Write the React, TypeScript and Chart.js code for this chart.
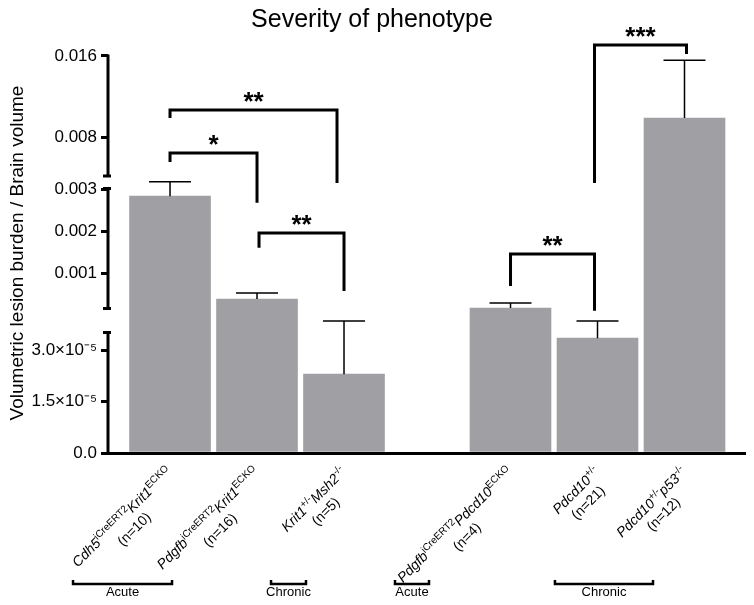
import React, { useEffect, useRef } from "react";
import { Chart, registerables } from "chart.js";

Chart.register(...registerables);

const FONT = "'Liberation Sans', Arial, Helvetica, sans-serif";

// ---------------- data ----------------
const categoryLabels = [
  "Cdh5^{iCreERT2}Krit1^{ECKO}",
  "Pdgfb^{iCreERT2}Krit1^{ECKO}",
  "Krit1^{+/-}Msh2^{-/-}",
  "Pdgfb^{iCreERT2}Pdcd10^{ECKO}",
  "Pdcd10^{+/-}",
  "Pdcd10^{+/-}p53^{-/-}",
];
const sampleSizes = ["(n=10)", "(n=16)", "(n=5)", "(n=4)", "(n=21)", "(n=12)"];
const clusterOf = [0, 0, 0, 1, 1, 1];
const means = [0.00283, 0.000381, 2.3e-5, 0.000167, 3.35e-5, 0.00988];
const sems = [0.00034, 0.000143, 1.55e-5, 0.000119, 0.5e-5, 0.0057];

const yTickValues = [0, 1.5e-5, 3.0e-5, 0.001, 0.002, 0.003, 0.008, 0.016];
const yTickLabels = ["0.0", "1.5×10⁻⁵", "3.0×10⁻⁵", "0.001", "0.002", "0.003", "0.008", "0.016"];

// broken axis: value range of each piece and where it sits on the axis (0..AXIS_SPAN)
const axisSegments = [
  { lo: 0, hi: 3.5e-5, from: 0, to: 120 },
  { lo: 0.000167, hi: 0.003, from: 145, to: 264 },
  { lo: 0.0042, hi: 0.016, from: 277.5, to: 397 },
];
const AXIS_SPAN = 413;

const comparisons = [
  { a: 0, b: 1, top: 0.00642, endA: 0.00553, endB: 0.00267, label: "*", nudgeA: 0, nudgeB: 0 },
  { a: 0, b: 2, top: 0.01067, endA: 0.00988, endB: 0.00314, label: "**", nudgeA: 0, nudgeB: -7 },
  { a: 1, b: 2, top: 0.00195, endA: 0.0016, endB: 0.000571, label: "**", nudgeA: 2, nudgeB: 0 },
  { a: 3, b: 4, top: 0.00145, endA: 0.00069, endB: 0.0001, label: "**", nudgeA: 0, nudgeB: -3 },
  { a: 4, b: 5, top: 0.01709, endA: 0.00314, endB: 0.0162, label: "***", nudgeA: -3, nudgeB: 2 },
];

const groupLabels = ["Acute", "Chronic", "Acute", "Chronic"];
const groupSpans = [
  [-1.115, 0.023],
  [1.161, 1.563],
  [2.586, 2.977],
  [4.425, 5.552],
];

// ---------------- layout helpers ----------------
const CLUSTER_GAP = 0.914;
const barX = categoryLabels.map((_, i) => i + clusterOf[i] * CLUSTER_GAP);

function segIndex(v: number) {
  for (let i = 0; i < axisSegments.length - 1; i++) {
    const t = Math.sqrt(axisSegments[i].hi * axisSegments[i + 1].lo);
    if (v < t) return i;
  }
  return axisSegments.length - 1;
}
function toAxis(v: number) {
  const s = axisSegments[segIndex(v)];
  return s.from + ((v - s.lo) / (s.hi - s.lo)) * (s.to - s.from);
}

function parseRich(s: string) {
  const runs: { t: string; sup: boolean }[] = [];
  const re = /\^\{([^}]*)\}|([^^]+)/g;
  let m: RegExpExecArray | null;
  while ((m = re.exec(s))) {
    if (m[1] !== undefined) runs.push({ t: m[1], sup: true });
    else runs.push({ t: m[2], sup: false });
  }
  return runs;
}

const decorations = {
  id: "decorations",
  afterDraw(chart: any) {
    const ctx: CanvasRenderingContext2D = chart.ctx;
    const xs = chart.scales.x;
    const ys = chart.scales.y;
    const area = chart.chartArea;
    ctx.save();
    ctx.fillStyle = "#000";
    ctx.strokeStyle = "#000";

    // title
    ctx.font = `25px ${FONT}`;
    ctx.textAlign = "center";
    ctx.textBaseline = "alphabetic";
    ctx.fillText("Severity of phenotype", 364, 19);

    // y axis title
    ctx.save();
    ctx.translate(10, 245);
    ctx.rotate(-Math.PI / 2);
    ctx.font = `19px ${FONT}`;
    ctx.textBaseline = "middle";
    ctx.fillText("Volumetric lesion burden / Brain volume", 0, 0);
    ctx.restore();

    // broken y axis
    const ax = area.left;
    ctx.lineWidth = 3;
    ctx.lineCap = "butt";
    axisSegments.forEach((s, i) => {
      const yA = ys.getPixelForValue(s.from);
      const yB = ys.getPixelForValue(s.to);
      ctx.beginPath();
      ctx.moveTo(ax, i === 0 ? area.bottom + 1.5 : yA + 1.5);
      ctx.lineTo(ax, yB - 1.5);
      ctx.stroke();
      if (i > 0) {
        ctx.beginPath();
        ctx.moveTo(ax - 5, yA + 0.5);
        ctx.lineTo(ax + 3, yA + 0.5);
        ctx.stroke();
      }
      if (i < axisSegments.length - 1) {
        ctx.beginPath();
        ctx.moveTo(ax - 5, yB - 0.5);
        ctx.lineTo(ax + 3, yB - 0.5);
        ctx.stroke();
      }
    });

    // error bars
    ctx.lineWidth = 1.5;
    means.forEach((m, i) => {
      const x = xs.getPixelForValue(barX[i]);
      const yBar = ys.getPixelForValue(toAxis(m));
      const yTop = ys.getPixelForValue(toAxis(m + sems[i]));
      ctx.beginPath();
      ctx.moveTo(x, yBar);
      ctx.lineTo(x, yTop);
      ctx.moveTo(x - 21, yTop);
      ctx.lineTo(x + 21, yTop);
      ctx.stroke();
    });

    // significance brackets
    comparisons.forEach((c) => {
      const xa = xs.getPixelForValue(barX[c.a]) + c.nudgeA;
      const xb = xs.getPixelForValue(barX[c.b]) + c.nudgeB;
      const yt = ys.getPixelForValue(toAxis(c.top));
      const ya = ys.getPixelForValue(toAxis(c.endA));
      const yb = ys.getPixelForValue(toAxis(c.endB));
      ctx.lineWidth = 3;
      ctx.lineJoin = "miter";
      ctx.beginPath();
      ctx.moveTo(xa, ya);
      ctx.lineTo(xa, yt);
      ctx.lineTo(xb, yt);
      ctx.lineTo(xb, yb);
      ctx.stroke();
      ctx.font = `bold 26px ${FONT}`;
      ctx.textAlign = "center";
      ctx.textBaseline = "alphabetic";
      ctx.fillText(c.label, (xa + xb) / 2, yt);
    });

    // category labels (rotated, rich text)
    const mainFont = `italic 14px ${FONT}`;
    const supFont = `10px ${FONT}`;
    categoryLabels.forEach((lab, i) => {
      const x = xs.getPixelForValue(barX[i]);
      const runs = parseRich(lab);
      let w1 = 0;
      runs.forEach((r) => {
        ctx.font = r.sup ? supFont : mainFont;
        w1 += ctx.measureText(r.t).width;
      });
      ctx.save();
      ctx.translate(x - 5, area.bottom + 12);
      ctx.rotate(-Math.PI / 4);
      ctx.textAlign = "left";
      ctx.textBaseline = "alphabetic";
      const base = 11;
      let cx = -w1;
      runs.forEach((r) => {
        ctx.font = r.sup ? supFont : mainFont;
        ctx.fillText(r.t, cx, r.sup ? base - 5.5 : base);
        cx += ctx.measureText(r.t).width;
      });
      ctx.font = `14px ${FONT}`;
      ctx.textAlign = "center";
      ctx.fillText(sampleSizes[i], -w1 / 2, base + 17);
      ctx.restore();
    });

    // group brackets
    groupLabels.forEach((g, i) => {
      const x1 = xs.getPixelForValue(groupSpans[i][0]);
      const x2 = xs.getPixelForValue(groupSpans[i][1]);
      const yl = 576;
      ctx.lineWidth = 2.5;
      ctx.beginPath();
      ctx.moveTo(x1, yl - 4);
      ctx.lineTo(x1, yl);
      ctx.lineTo(x2, yl);
      ctx.lineTo(x2, yl - 4);
      ctx.stroke();
      ctx.font = `13px ${FONT}`;
      ctx.textAlign = "center";
      ctx.textBaseline = "alphabetic";
      ctx.fillText(g, (x1 + x2) / 2, 588);
    });

    ctx.restore();
  },
};

export default function App() {
  const ref = useRef<HTMLCanvasElement | null>(null);
  useEffect(() => {
    if (!ref.current) return;
    const chart = new Chart(ref.current, {
      type: "bar",
      data: {
        datasets: [
          {
            data: means.map((m, i) => ({ x: barX[i], y: toAxis(m) })),
            backgroundColor: "#a0a0a4",
            borderWidth: 0,
            barThickness: 81,
          },
        ],
      },
      options: {
        animation: false,
        responsive: true,
        maintainAspectRatio: false,
        layout: { padding: { top: 32, left: 0, right: 0, bottom: 0 } },
        plugins: {
          legend: { display: false },
          title: { display: false },
          tooltip: { enabled: false },
        },
        scales: {
          x: {
            type: "linear",
            offset: false,
            min: -0.713,
            max: 6.621,
            z: 1,
            grid: { display: false, offset: false },
            ticks: { display: false },
            border: { display: true, color: "#000", width: 3 },
            afterFit: (s: any) => {
              s.height = 144;
            },
          },
          y: {
            type: "linear",
            min: 0,
            max: AXIS_SPAN,
            grid: {
              display: true,
              drawOnChartArea: false,
              drawTicks: true,
              tickLength: 7,
              lineWidth: 3,
              color: "#000",
            },
            border: { display: false },
            ticks: {
              autoSkip: false,
              color: "#000",
              padding: 4,
              font: { family: FONT, size: 17 },
              callback: (_v: any, i: number) => yTickLabels[i],
            },
            afterBuildTicks: (s: any) => {
              s.ticks = yTickValues.map((v) => ({ value: toAxis(v) }));
            },
            afterFit: (s: any) => {
              s.width = 100;
            },
          },
        },
      } as any,
      plugins: [decorations],
    });
    return () => chart.destroy();
  }, []);
  return (
    <div style={{ width: 738, height: 589, position: "relative", overflow: "hidden" }}>
      <canvas ref={ref} />
    </div>
  );
}
